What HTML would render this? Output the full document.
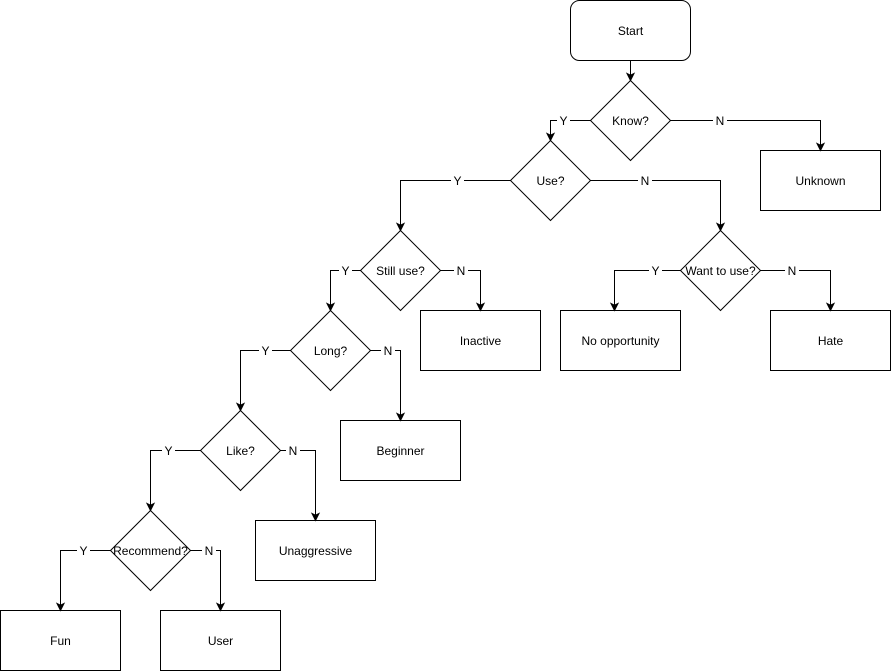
<!DOCTYPE html>
<html><head><meta charset="utf-8"><style>
html,body{margin:0;padding:0;background:#fff;}
svg{display:block;}
text{font-family:"Liberation Sans",Arial,sans-serif;fill:#000;}
</style></head><body>
<svg width="891" height="671" viewBox="0 0 891 671" xmlns="http://www.w3.org/2000/svg">
<g fill="#fff" stroke="#000" stroke-width="1">
<rect x="570.5" y="0.5" width="120" height="60" rx="9" ry="9"/>
<polygon points="630.5,80.5 670.5,120.5 630.5,160.5 590.5,120.5"/>
<polygon points="550.5,140.5 590.5,180.5 550.5,220.5 510.5,180.5"/>
<polygon points="400.5,230.5 440.5,270.5 400.5,310.5 360.5,270.5"/>
<polygon points="720.5,230.5 760.5,270.5 720.5,310.5 680.5,270.5"/>
<polygon points="330.5,310.5 370.5,350.5 330.5,390.5 290.5,350.5"/>
<polygon points="240.5,410.5 280.5,450.5 240.5,490.5 200.5,450.5"/>
<polygon points="150.5,510.5 190.5,550.5 150.5,590.5 110.5,550.5"/>
<rect x="760.5" y="150.5" width="120" height="60"/>
<rect x="420.5" y="310.5" width="120" height="60"/>
<rect x="560.5" y="310.5" width="120" height="60"/>
<rect x="770.5" y="310.5" width="120" height="60"/>
<rect x="340.5" y="420.5" width="120" height="60"/>
<rect x="255.5" y="520.5" width="120" height="60"/>
<rect x="0.5" y="610.5" width="120" height="60"/>
<rect x="160.5" y="610.5" width="120" height="60"/>
</g>
<g fill="none" stroke="#000" stroke-width="1">
<path d="M630.5 60.5V75"/>
<path d="M590.5 120.5H550.5V135"/>
<path d="M670.5 120.5H820.5V145"/>
<path d="M510.5 180.5H400.5V225"/>
<path d="M590.5 180.5H720.5V225"/>
<path d="M360.5 270.5H330.5V305"/>
<path d="M440.5 270.5H480.5V305"/>
<path d="M680.5 270.5H614.5V305"/>
<path d="M760.5 270.5H830.5V305"/>
<path d="M290.5 350.5H240.5V405"/>
<path d="M370.5 350.5H400.5V415"/>
<path d="M200.5 450.5H150.5V505"/>
<path d="M280.5 450.5H315.5V515"/>
<path d="M110.5 550.5H60.5V605"/>
<path d="M190.5 550.5H220.5V605"/>
</g>
<g fill="#000" stroke="#000" stroke-width="1">
<path d="M630.5 80.5l-3.5-7 3.5 1.75 3.5-1.75z"/>
<path d="M550.5 140.5l-3.5-7 3.5 1.75 3.5-1.75z"/>
<path d="M820.5 150.5l-3.5-7 3.5 1.75 3.5-1.75z"/>
<path d="M400.5 230.5l-3.5-7 3.5 1.75 3.5-1.75z"/>
<path d="M720.5 230.5l-3.5-7 3.5 1.75 3.5-1.75z"/>
<path d="M330.5 310.5l-3.5-7 3.5 1.75 3.5-1.75z"/>
<path d="M480.5 310.5l-3.5-7 3.5 1.75 3.5-1.75z"/>
<path d="M614.5 310.5l-3.5-7 3.5 1.75 3.5-1.75z"/>
<path d="M830.5 310.5l-3.5-7 3.5 1.75 3.5-1.75z"/>
<path d="M240.5 410.5l-3.5-7 3.5 1.75 3.5-1.75z"/>
<path d="M400.5 420.5l-3.5-7 3.5 1.75 3.5-1.75z"/>
<path d="M150.5 510.5l-3.5-7 3.5 1.75 3.5-1.75z"/>
<path d="M315.5 520.5l-3.5-7 3.5 1.75 3.5-1.75z"/>
<path d="M60.5 610.5l-3.5-7 3.5 1.75 3.5-1.75z"/>
<path d="M220.5 610.5l-3.5-7 3.5 1.75 3.5-1.75z"/>
</g>
<g fill="#fff">
<rect x="557" y="113" width="13" height="15"/>
<rect x="713" y="113" width="14" height="15"/>
<rect x="451" y="173" width="13" height="15"/>
<rect x="638" y="173" width="14" height="15"/>
<rect x="339" y="263" width="13" height="15"/>
<rect x="454" y="263" width="14" height="15"/>
<rect x="649" y="263" width="13" height="15"/>
<rect x="785" y="263" width="14" height="15"/>
<rect x="259" y="343" width="13" height="15"/>
<rect x="381" y="343" width="14" height="15"/>
<rect x="162" y="443" width="13" height="15"/>
<rect x="286" y="443" width="14" height="15"/>
<rect x="77" y="543" width="13" height="15"/>
<rect x="202" y="543" width="14" height="15"/>
</g>
<g font-size="12" text-anchor="middle">
<text x="563.5" y="125">Y</text>
<text x="720" y="125">N</text>
<text x="457.5" y="185">Y</text>
<text x="645" y="185">N</text>
<text x="345.5" y="275">Y</text>
<text x="461" y="275">N</text>
<text x="655.5" y="275">Y</text>
<text x="792" y="275">N</text>
<text x="265.5" y="355">Y</text>
<text x="388" y="355">N</text>
<text x="168.5" y="455">Y</text>
<text x="293" y="455">N</text>
<text x="83.5" y="555">Y</text>
<text x="209" y="555">N</text>
</g>
<g font-size="12" text-anchor="middle">
<text x="630.5" y="35">Start</text>
<text x="630.5" y="125">Know?</text>
<text x="550.5" y="185">Use?</text>
<text x="400.5" y="275">Still use?</text>
<text x="720.5" y="275">Want to use?</text>
<text x="330.5" y="355">Long?</text>
<text x="240.5" y="455">Like?</text>
<text x="150.5" y="555">Recommend?</text>
<text x="820.5" y="185">Unknown</text>
<text x="480.5" y="345">Inactive</text>
<text x="620.5" y="345">No opportunity</text>
<text x="830.5" y="345">Hate</text>
<text x="400.5" y="455">Beginner</text>
<text x="315.5" y="555">Unaggressive</text>
<text x="60.5" y="645">Fun</text>
<text x="220.5" y="645">User</text>
</g>
</svg>
</body></html>
